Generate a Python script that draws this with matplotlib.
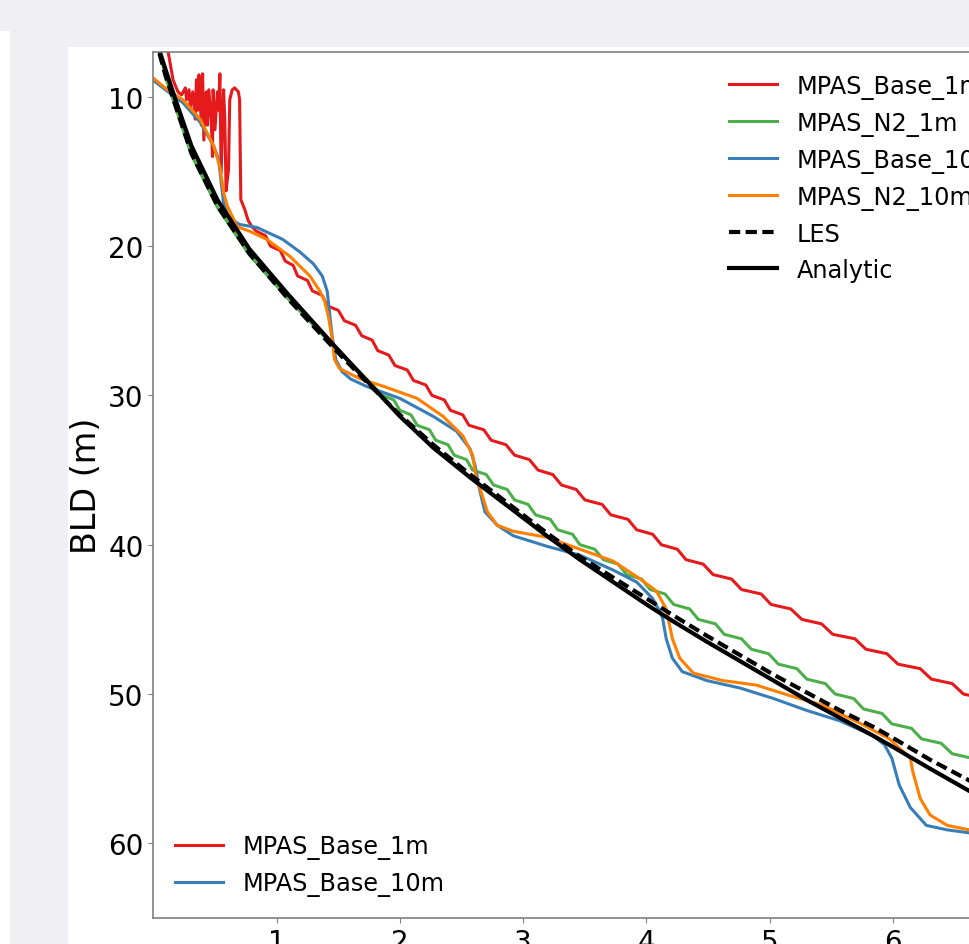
import matplotlib
matplotlib.use('Agg')
import matplotlib.pyplot as plt
from matplotlib.patches import Rectangle

# series (time, boundary layer depth in m)
red_t = [0.11, 0.16, 0.20, 0.23, 0.26, 0.27, 0.29, 0.30, 0.32, 0.34, 0.35, 0.36, 0.37, 0.39, 0.40,
         0.41, 0.43, 0.44, 0.45, 0.47, 0.48, 0.485, 0.50, 0.52, 0.53, 0.54, 0.55, 0.57, 0.58, 0.59,
         0.61, 0.62, 0.64, 0.66, 0.69, 0.70, 0.71, 0.74, 0.77, 0.80,
         0.835, 0.91, 0.95, 1.03, 1.07, 1.135, 1.17, 1.25, 1.29, 1.37, 1.41, 1.50, 1.55, 1.64,
         1.69, 1.775, 1.82, 1.91, 1.96, 2.06, 2.11, 2.21, 2.26, 2.36, 2.41, 2.51, 2.56, 2.68,
         2.74, 2.86, 2.93, 3.05, 3.12, 3.24, 3.31, 3.43, 3.50, 3.64, 3.71, 3.85, 3.92, 4.05,
         4.12, 4.25, 4.32, 4.46, 4.54, 4.69, 4.77, 4.93, 5.01, 5.17, 5.26, 5.42, 5.51, 5.69,
         5.78, 5.95, 6.04, 6.22, 6.31, 6.48, 6.57, 6.74, 6.83]
red_d = [6.5, 8.86, 9.67, 9.87, 9.40, 10.2, 9.53, 10.7, 9.67, 11.5, 8.86, 10.9, 8.53, 11.9, 8.46,
         12.9, 9.67, 11.9, 9.53, 11.5, 14.0, 9.53, 12.2, 9.67, 10.9, 8.46, 15.1, 9.53, 11.5, 16.3,
         14.9, 10.2, 9.53, 9.40, 9.67, 10.2, 16.9, 17.5, 18.3, 18.7,
         19, 19.3, 20, 20.3, 21, 21.3, 22, 22.3, 23, 23.3, 24, 24.3, 25, 25.3,
         26, 26.3, 27, 27.3, 28, 28.3, 29, 29.3, 30, 30.3, 31, 31.3, 32, 32.3,
         33, 33.3, 34, 34.3, 35, 35.3, 36, 36.3, 37, 37.3, 38, 38.3, 39, 39.3,
         40, 40.3, 41, 41.3, 42, 42.3, 43, 43.3, 44, 44.3, 45, 45.3, 46, 46.3,
         47, 47.3, 48, 48.3, 49, 49.3, 50, 50.3, 51]

green_t = [0.04, 0.10, 0.18, 0.31, 0.52, 0.78, 1.09, 1.46, 1.73,
           1.86, 1.95, 2.00, 2.09, 2.14, 2.24, 2.29, 2.39, 2.44, 2.54, 2.59, 2.70, 2.76, 2.87,
           2.93, 3.04, 3.10, 3.22, 3.28, 3.40, 3.46, 3.58, 3.65, 3.77, 3.84, 3.96, 4.03, 4.15,
           4.22, 4.35, 4.42, 4.56, 4.63, 4.77, 4.85, 4.99, 5.07, 5.22, 5.30, 5.45, 5.53, 5.68,
           5.76, 5.91, 5.99, 6.15, 6.23, 6.39, 6.48, 6.64, 6.73, 6.89, 6.98]
green_d = [6.6, 8.7, 10.7, 13.9, 17.4, 20.6, 23.5, 26.7, 28.9,
           30, 30.3, 31, 31.3, 32, 32.3, 33, 33.3, 34, 34.3, 35, 35.3, 36, 36.3,
           37, 37.3, 38, 38.3, 39, 39.3, 40, 40.3, 41, 41.3, 42, 42.3, 43, 43.3,
           44, 44.3, 45, 45.3, 46, 46.3, 47, 47.3, 48, 48.3, 49, 49.3, 50, 50.3,
           51, 51.3, 52, 52.3, 53, 53.3, 54, 54.3, 55, 55.3, 56]

blue_t = [0.0, 0.11, 0.24, 0.38, 0.49, 0.53, 0.55, 0.57, 0.61, 0.70, 0.84, 1.05, 1.19, 1.30,
          1.37, 1.41, 1.43, 1.45, 1.48, 1.53, 1.60, 1.73, 2.0, 2.27, 2.46, 2.57, 2.61, 2.63,
          2.65, 2.69, 2.79, 2.92, 3.19, 3.46, 3.73, 3.92, 4.05, 4.11, 4.13, 4.16, 4.21, 4.29,
          4.49, 4.76, 5.03, 5.30, 5.57, 5.84, 5.93, 5.99, 6.05, 6.14, 6.27, 6.44, 6.62, 7.0]
blue_d = [8.9, 9.6, 10.4, 11.7, 13.3, 14.2, 15.7, 17.1, 18.1, 18.55, 18.75, 19.55, 20.4, 21.2,
          22.0, 23.0, 24.5, 26.0, 27.6, 28.4, 28.9, 29.4, 30.2, 31.4, 32.4, 33.6, 34.7, 35.6,
          36.45, 37.8, 38.7, 39.4, 40.1, 40.7, 41.7, 42.5, 43.6, 44.5, 44.9, 46.3, 47.6, 48.5,
          49.1, 49.6, 50.3, 51.1, 51.8, 52.8, 53.4, 54.3, 56.1, 57.6, 58.8, 59.1, 59.3, 59.6]

orange_t = [0.0, 0.11, 0.24, 0.38, 0.49, 0.54, 0.57, 0.60, 0.68, 0.78, 0.92, 1.11, 1.27, 1.35,
            1.39, 1.42, 1.45, 1.47, 1.51, 1.68, 1.87, 2.14, 2.35, 2.51, 2.59, 2.62, 2.65, 2.71,
            2.79, 2.92, 3.19, 3.46, 3.73, 3.95, 4.08, 4.16, 4.21, 4.27, 4.38, 4.62, 4.89, 5.16,
            5.43, 5.73, 5.97, 6.14, 6.16, 6.22, 6.30, 6.44, 6.62, 7.0]
orange_d = [8.75, 9.5, 10.2, 11.5, 13.3, 14.7, 16.4, 17.3, 18.7, 19.0, 19.55, 20.7, 22.0, 23.0,
            23.7, 24.7, 26.2, 27.6, 28.2, 28.9, 29.4, 30.2, 31.4, 32.7, 34.0, 35.6, 36.25, 37.8,
            38.7, 39.1, 39.5, 40.3, 41.1, 42.3, 43.1, 44.3, 46.3, 47.6, 48.6, 49.1, 49.4, 50.1,
            50.75, 51.95, 53.0, 54.3, 55.2, 57.0, 58.1, 58.8, 59.1, 59.4]

les_t = [0.05, 0.10, 0.18, 0.31, 0.52, 0.78, 1.09, 1.46, 1.73, 2.0, 2.27, 2.57, 2.92, 3.19,
         3.46, 3.73, 4.0, 4.21, 4.49, 4.76, 5.03, 5.30, 5.57, 5.84, 5.99, 6.3, 6.62, 7.0]
les_d = [7.1, 8.6, 10.6, 13.8, 17.3, 20.5, 23.5, 26.8, 29.1, 31.3, 33.3, 35.3, 37.5, 39.2,
         40.8, 42.2, 43.6, 44.7, 46.1, 47.4, 48.7, 49.9, 51.1, 52.2, 52.9, 54.4, 55.8, 57.5]

ana_t = [0.05, 0.10, 0.18, 0.31, 0.52, 0.78, 1.09, 1.46, 1.73, 2.0, 2.27, 2.57, 2.92, 3.19,
         3.46, 3.73, 4.0, 4.21, 4.49, 4.76, 5.03, 5.30, 5.57, 5.84, 5.99, 6.3, 6.62, 7.0]
ana_d = [6.9, 8.2, 10.2, 13.3, 16.9, 20.2, 23.2, 26.6, 29.0, 31.4, 33.5, 35.5, 37.7, 39.4,
         41.0, 42.5, 44.0, 45.1, 46.5, 47.8, 49.1, 50.4, 51.6, 52.8, 53.5, 55.0, 56.5, 58.2]

xticks = [1, 2, 3, 4, 5, 6, 7]
yticks = [10, 20, 30, 40, 50, 60]
xmax = 7.03

W, H = 970, 945
fig = plt.figure(figsize=(W / 100, H / 100), dpi=100, facecolor='#efeff4')
# page background around the chart (screenshot look)
fig.add_artist(Rectangle((0, 0), 10 / W, 1 - 32 / H, transform=fig.transFigure,
                         facecolor='white', edgecolor='none', zorder=0))
fig.add_artist(Rectangle((68 / W, 0), 1 - 68 / W, 1 - 48 / H, transform=fig.transFigure,
                         facecolor='white', edgecolor='none', zorder=0))

ax = fig.add_axes([153.3 / W, 26 / H, xmax * 123.3 / W, 866 / H])

l_red, = ax.plot(red_t, red_d, color='#e41a1c', lw=2.2, label='MPAS_Base_1m')
l_green, = ax.plot(green_t, green_d, color='#4daf4a', lw=2.2, label='MPAS_N2_1m')
l_blue, = ax.plot(blue_t, blue_d, color='#377eb8', lw=2.2, label='MPAS_Base_10m')
l_orange, = ax.plot(orange_t, orange_d, color='#ff7f00', lw=2.2, label='MPAS_N2_10m')
l_les, = ax.plot(les_t, les_d, color='black', lw=3, ls=(0, (2.7, 1.3)), label='LES')
l_ana, = ax.plot(ana_t, ana_d, color='black', lw=3, label='Analytic')

ax.set_xlim(0, xmax)
ax.set_ylim(65, 7)
ax.set_xticks(xticks)
ax.set_yticks(yticks)
ax.tick_params(labelsize=20, color='#808080')
for sp in ax.spines.values():
    sp.set_color('#808080')
    sp.set_linewidth(1.2)
ax.set_ylabel('BLD (m)', fontsize=24)

leg1 = ax.legend(handles=[l_red, l_green, l_blue, l_orange, l_les, l_ana],
                 loc='upper right', frameon=False, fontsize=17.3)
ax.add_artist(leg1)
ax.legend(handles=[l_red, l_blue], loc='lower left', frameon=False, fontsize=17.3)

fig.savefig('out.png', dpi=100, facecolor=fig.get_facecolor())
